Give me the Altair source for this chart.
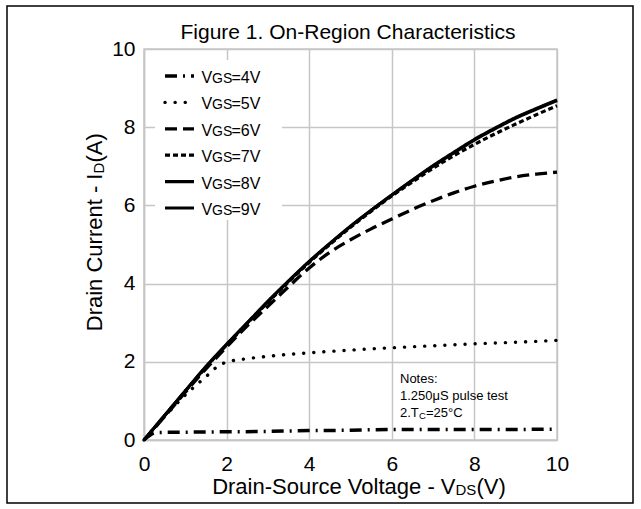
import altair as alt
import pandas as pd

# ---------------- data ----------------
VDS = [0, 0.5, 1, 1.5, 2, 2.5, 3, 3.5, 4, 4.5, 5, 5.5, 6, 6.5, 7, 7.5, 8, 8.5, 9, 9.5, 10]
ID_9V = [0, 0.63, 1.26, 1.88, 2.45, 3.0, 3.55, 4.07, 4.57, 5.03, 5.47, 5.88, 6.27, 6.65, 7.02, 7.36, 7.69, 7.98, 8.25, 8.48, 8.70]
ID_8V = [0, 0.63, 1.25, 1.87, 2.44, 2.99, 3.54, 4.06, 4.56, 5.02, 5.46, 5.87, 6.26, 6.64, 7.00, 7.34, 7.67, 7.96, 8.23, 8.46, 8.68]
ID_7V = [0, 0.62, 1.25, 1.86, 2.43, 2.98, 3.52, 4.04, 4.54, 5.00, 5.44, 5.85, 6.24, 6.60, 6.95, 7.27, 7.56, 7.83, 8.08, 8.32, 8.55]
ID_6V = [0, 0.60, 1.22, 1.82, 2.38, 2.92, 3.42, 3.92, 4.40, 4.80, 5.12, 5.40, 5.65, 5.90, 6.12, 6.32, 6.49, 6.62, 6.73, 6.80, 6.85]

VDS_5V = [0, 0.5, 1, 1.5, 1.85, 2, 2.5, 3, 3.5, 4, 5, 6, 7, 8, 9, 10]
ID_5V = [0, 0.60, 1.15, 1.62, 1.93, 1.99, 2.08, 2.14, 2.19, 2.23, 2.30, 2.36, 2.41, 2.46, 2.50, 2.55]

VDS_4V = [0, 0.3, 1, 2, 3, 4, 5, 6, 7, 8, 9, 10]
ID_4V = [0, 0.19, 0.20, 0.21, 0.22, 0.24, 0.25, 0.27, 0.27, 0.27, 0.27, 0.28]

SERIES = ["VGS=4V", "VGS=5V", "VGS=6V", "VGS=7V", "VGS=8V", "VGS=9V"]
LEGEND_SUFFIX = ["=4V", "=5V", "=6V", "=7V", "=8V", "=9V"]
X_TICKS = [0, 2, 4, 6, 8, 10]
Y_TICKS = [0, 2, 4, 6, 8, 10]

TITLE = "Figure 1. On-Region Characteristics"
NOTES = ["Notes:", "1.250\u03bcS pulse test"]

# ---------------- styles ----------------
DASHES = [[12, 6, 2, 6], [0.1, 10], [12, 6], [5, 3], [1, 0], [1, 0]]
WIDTHS = [3.5, 3, 3, 3, 3.5, 3.5]
FONT = "Liberation Sans"
GRID = "#c6c6c6"

rows = []
for name, xs, ys in [
    ("VGS=4V", VDS_4V, ID_4V),
    ("VGS=5V", VDS_5V, ID_5V),
    ("VGS=6V", VDS, ID_6V),
    ("VGS=7V", VDS, ID_7V),
    ("VGS=8V", VDS, ID_8V),
    ("VGS=9V", VDS, ID_9V),
]:
    for i, (x, y) in enumerate(zip(xs, ys)):
        rows.append({"series": name, "vds": x, "id": y, "order": i})
df = pd.DataFrame(rows)

leg = pd.DataFrame({"series": SERIES, "row": list(range(len(SERIES))), "suffix": LEGEND_SUFFIX})

dash_scale = alt.Scale(domain=SERIES, range=DASHES)
width_scale = alt.Scale(domain=SERIES, range=WIDTHS)

xenc = alt.X("vds:Q", scale=alt.Scale(domain=[0, 10], nice=False),
             axis=alt.Axis(values=X_TICKS, title=None, labelPadding=13, labelFlush=False))
yenc = alt.Y("id:Q", scale=alt.Scale(domain=[0, 10], nice=False),
             axis=alt.Axis(values=Y_TICKS, title=None, labelPadding=9))

base = alt.Chart(df)
line_enc = dict(
    x=xenc, y=yenc,
    strokeDash=alt.StrokeDash("series:N", scale=dash_scale, legend=None),
    strokeWidth=alt.StrokeWidth("series:N", scale=width_scale, legend=None),
    detail="series:N",
    order=alt.Order("order:Q"),
)
lines_butt = base.transform_filter(alt.datum.series != "VGS=5V").mark_line(
    color="black", strokeCap="butt", interpolate="monotone").encode(**line_enc)
lines_round = base.transform_filter(alt.datum.series == "VGS=5V").mark_line(
    color="black", strokeCap="round", interpolate="monotone").encode(**line_enc)
lines_group = alt.layer(lines_butt, lines_round)

# legend (white box + samples + labels)
leg_y = alt.Y("row:Q", scale=alt.Scale(domain=[0, 5], range=[27, 159]), axis=None)
lb = alt.Chart(leg)
rule_enc = dict(
    x=alt.value(21), x2=alt.value(50), y=leg_y,
    strokeDash=alt.StrokeDash("series:N", scale=dash_scale, legend=None),
    strokeWidth=alt.StrokeWidth("series:N", scale=width_scale, legend=None),
)
leg_rule_butt = lb.transform_filter(alt.datum.series != "VGS=5V").mark_rule(
    color="black", strokeCap="butt").encode(**rule_enc)
leg_rule_round = lb.transform_filter(alt.datum.series == "VGS=5V").mark_rule(
    color="black", strokeCap="round").encode(**rule_enc)
leg_v = lb.mark_text(text="V", font=FONT, fontSize=16, align="left", baseline="alphabetic", dy=7,
                     color="black").encode(x=alt.value(57.5), y=leg_y)
leg_gs = lb.mark_text(text="GS", font=FONT, fontSize=14, align="left", baseline="alphabetic", dy=7,
                      color="black").encode(x=alt.value(68), y=leg_y)
leg_sfx = lb.mark_text(font=FONT, fontSize=16, align="left", baseline="alphabetic", dy=7,
                       color="black").encode(x=alt.value(87.5), y=leg_y, text="suffix:N")
legend_group = alt.layer(leg_rule_butt, leg_rule_round, leg_v, leg_gs, leg_sfx)

one = alt.Data(values=[{}])


def txt(s, x, y, size=22, align="left", angle=0, baseline="alphabetic"):
    kw = dict(text=s, font=FONT, fontSize=size, align=align, baseline=baseline, color="black")
    if angle:
        kw["angle"] = angle
    return alt.Chart(one).mark_text(**kw).encode(x=alt.value(x), y=alt.value(y))


legend_box = alt.Chart(one).mark_rect(fill="white", stroke=None).encode(
    x=alt.value(11), x2=alt.value(138), y=alt.value(11), y2=alt.value(171))

frame = alt.Chart(one).mark_rect(filled=False, stroke="black", strokeWidth=1.5).encode(
    x=alt.value(-137), x2=alt.value(489), y=alt.value(-43), y2=alt.value(454))

annotations = [
    frame,
    txt(TITLE, 204, -10, size=21, align="center"),
    # x-axis title
    txt("Drain-Source Voltage  -  V", 311.5, 444.5, align="right"),
    txt("DS", 311.5, 445.5, size=15),
    txt("(V)", 332.5, 444.5),
    # y-axis title (rotated)
    txt("Drain Current  -  I", -42, 124.5, align="right", angle=270),
    txt("D", -40.5, 124.5, size=15, angle=270),
    txt("(A)", -42, 113.5, angle=270),
    # notes
    txt(NOTES[0], 256, 334, size=13),
    txt(NOTES[1], 256, 351, size=13),
    txt("2.T", 256, 368, size=13),
    txt("C", 275, 370, size=9.5),
    txt("=25\u00b0C", 282, 368, size=13),
]

chart = alt.layer(
    legend_box, lines_group, legend_group, *annotations
).resolve_scale(
    y="independent"
).properties(
    width=413, height=391,
    padding={"left": 144, "top": 49, "right": 84, "bottom": 69},
    autosize=alt.AutoSizeParams(type="none"),
    background="white",
).configure_view(
    stroke=GRID, strokeWidth=1.5
).configure_axis(
    grid=True, gridColor=GRID, gridWidth=1.5, gridOpacity=1,
    domainColor=GRID, domainWidth=1.5,
    ticks=False, tickSize=0,
    labelFont=FONT, labelFontSize=21, labelColor="black",
)

chart.save("out.html", embed_options={"renderer": "svg", "actions": False})
